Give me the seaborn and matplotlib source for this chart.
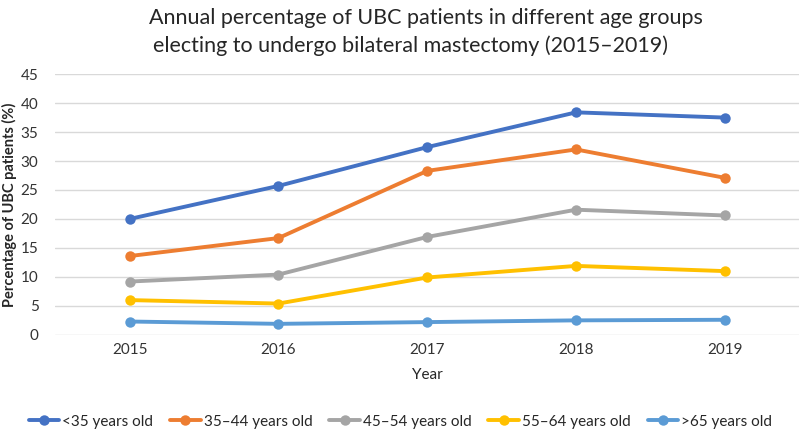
import matplotlib.pyplot as plt
import pandas as pd
import seaborn as sns

# Data
years = [2015, 2016, 2017, 2018, 2019]
groups = ['<35 years old', '35\u201344 years old', '45\u201354 years old',
          '55\u201364 years old', '>65 years old']
under_35 = [20.0, 25.7, 32.4, 38.4, 37.5]
age_35_44 = [13.6, 16.7, 28.3, 32.0, 27.1]
age_45_54 = [9.2, 10.4, 16.9, 21.6, 20.6]
age_55_64 = [6.0, 5.4, 9.9, 11.9, 11.0]
over_65 = [2.3, 1.9, 2.2, 2.5, 2.6]
colors = ['#4472C4', '#ED7D31', '#A5A5A5', '#FFC000', '#5B9BD5']

series = [under_35, age_35_44, age_45_54, age_55_64, over_65]
rows = []
for name, values in zip(groups, series):
    for year, value in zip(years, values):
        rows.append({'Year': year, 'Percentage': value, 'Group': name})
df = pd.DataFrame(rows)

sns.set_theme(style='white')
plt.rcParams['font.family'] = ['Lato', 'DejaVu Sans']

fig = plt.figure(figsize=(8, 4.36), dpi=100)
ax = fig.add_axes([0.069, 0.232, 0.93, 0.598])

sns.lineplot(data=df, x='Year', y='Percentage', hue='Group', hue_order=groups,
             palette=colors, marker='o', markersize=7.5, markeredgewidth=0,
             linewidth=2.8, ax=ax)

ax.set_xlim(2014.5, 2019.5)
ax.set_ylim(0, 45)
ax.set_xticks(years)
ax.set_yticks(range(0, 50, 5))
ax.tick_params(axis='both', labelsize=11, colors='#333333', length=0, pad=6)
ax.tick_params(axis='y', pad=12)
ax.yaxis.grid(True, color='#D9D9D9', linewidth=1)
ax.set_axisbelow(True)
for side in ['top', 'right', 'left', 'bottom']:
    ax.spines[side].set_visible(False)

ax.set_xlabel('Year', fontsize=11, color='#262626', labelpad=8)
ax.set_ylabel('Percentage of UBC patients (%)', fontsize=10.5, fontweight='bold',
              color='#262626')
ax.yaxis.set_label_coords(-0.051, 0.5)

fig.text(0.532, 0.958, 'Annual percentage of UBC patients in different age groups',
         ha='center', va='center', fontsize=15.5, color='#262626')
fig.text(0.513, 0.895, 'electing to undergo bilateral mastectomy (2015\u20132019)',
         ha='center', va='center', fontsize=15.5, color='#262626')

ax.legend(loc='center', bbox_to_anchor=(0.464, -0.333), ncol=5, frameon=False,
          fontsize=11, handlelength=2.0, handletextpad=0.2, columnspacing=1.1)

fig.savefig('out.png', dpi=100)
